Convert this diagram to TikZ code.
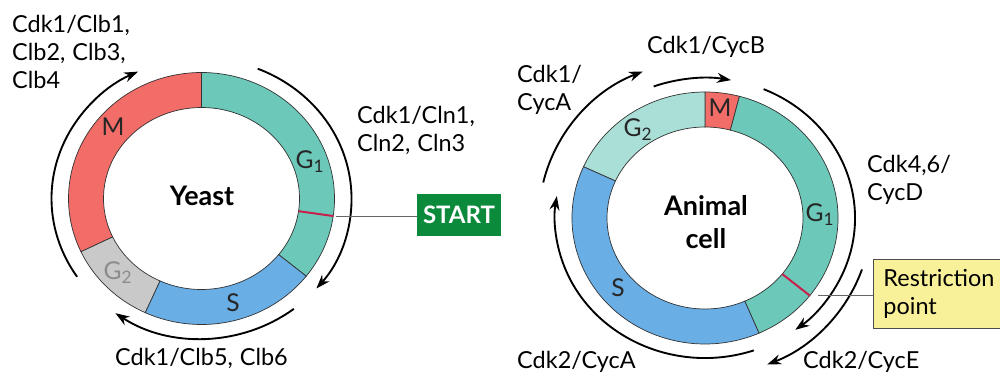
\documentclass[tikz,border=0pt]{standalone}
\usepackage{fontspec}
\setmainfont{Lato}
\usetikzlibrary{arrows.meta}
\usetikzlibrary{positioning}
\usetikzlibrary{calc}
\definecolor{mred}{HTML}{F26C68}
\definecolor{gteal}{HTML}{6CC8B9}
\definecolor{gpale}{HTML}{A9DFD6}
\definecolor{ggray}{HTML}{C9C9C9}
\definecolor{sblue}{HTML}{6AAEE6}
\definecolor{rpred}{HTML}{C8204A}
\definecolor{startgreen}{HTML}{0B8A3C}
\definecolor{rpyellow}{HTML}{F9F09A}
\newcommand{\labfont}{\fontsize{20}{23.8}\selectfont\spaceskip=0.3em plus 0.1em\relax}
\tikzstyle{phase}=[draw=black!80,line width=0.6pt]
\tikzstyle{rpline}=[draw=rpred,line width=1.7pt]
\tikzstyle{cyc}=[line width=1.6pt,-{Stealth[length=12pt,width=8.5pt]}]
\tikzstyle{lab}=[font=\labfont,align=left,inner sep=0pt,anchor=north west]
\tikzstyle{phaselab}=[font=\fontsize{21}{25}\selectfont,text=black!85,inner sep=0pt]
\tikzstyle{cellname}=[font=\fontsize{23}{28}\selectfont\bfseries,align=center,inner sep=0pt]
\tikzstyle{pointer}=[draw=black!60,line width=1pt]
\newcommand{\phaseseg}[3]{\filldraw[phase,fill=#3] (#1:133 and 126) arc[start angle=#1,end angle=#2,x radius=133,y radius=126] -- (#2:98 and 91) arc[start angle=#2,end angle=#1,x radius=98,y radius=91] -- cycle;}

\begin{document}
\begin{tikzpicture}[x=0.3mm,y=0.3mm]
\useasboundingbox (0,0) rectangle (1000,376);
\begin{scope}[shift={(201.5,177.5)}]
\foreach \a/\b/\c in {90/205/mred,205/245/ggray,245/322/sblue,322/450/gteal}{\phaseseg{\a}{\b}{\c}}
\draw[rpline] (-8:98 and 91) -- (-8:133 and 126);
\draw[cyc] (214:150 and 140) arc[start angle=214,end angle=115,x radius=150,y radius=140];
\draw[cyc] (68:150 and 140) arc[start angle=68,end angle=-40,x radius=150,y radius=140];
\draw[cyc] (-52:150 and 140) arc[start angle=-52,end angle=-125,x radius=150,y radius=140];
\coordinate (startpt) at (-8:136 and 129);
\node[phaselab] (ym) at (-88.5,71.5) {M};
\node[phaselab] (yg1) at (108.5,36.5) {G\textsubscript{1}};
\node[phaselab,text=black!45] (yg2) at (-83.5,-74.5) {G\textsubscript{2}};
\node[phaselab] (ys) at (31.5,-104.5) {S};
\node[cellname] (yeast) at (0.5,2.5) {Yeast};
\end{scope}

\begin{scope}[shift={(705,158)}]
\foreach \a/\b/\c in {75/90/mred,90/156/gpale,156/294/sblue,294/435/gteal}{\phaseseg{\a}{\b}{\c}}
\draw[rpline] (-38:98 and 91) -- (-38:133 and 126);
\draw[cyc] (167:166 and 158) arc[start angle=167,end angle=112,x radius=166,y radius=158];
\draw[cyc] (110:150 and 140) arc[start angle=110,end angle=80,x radius=150,y radius=140];
\draw[cyc] (67:150 and 140) arc[start angle=67,end angle=-53,x radius=150,y radius=140];
\draw[cyc] (-19:166 and 158) arc[start angle=-19,end angle=-68,x radius=166,y radius=158];
\draw[cyc] (-71:150 and 140) arc[start angle=-71,end angle=-189,x radius=150,y radius=140];
\coordinate (rpt) at (-36:140 and 132);
\node[phaselab] (am) at (15,110) {M};
\node[phaselab] (ag2) at (-67,88) {G\textsubscript{2}};
\node[phaselab] (ag1) at (115,3) {G\textsubscript{1}};
\node[phaselab] (as) at (-87,-70) {S};
\node[cellname] (animal) at (1,-4) {Animal\\cell};
\end{scope}

\node[lab] (clbA) at (12,361) {Cdk1/Clb1,\\Clb2, Clb3,\\Clb4};
\node[lab] (clnA) at (357,270) {Cdk1/Cln1,\\Cln2, Cln3};
\node[lab] (clbB) at (115,28) {Cdk1/Clb5, Clb6};
\node[lab] (cycB) at (647,340) {Cdk1/CycB};
\node[lab] (cycA) at (517,311) {Cdk1/\\CycA};
\node[lab] (cycD) at (867,221) {Cdk4,6/\\CycD};
\node[lab] (cycAb) at (517,25) {Cdk2/CycA};
\node[lab] (cycE) at (803,25) {Cdk2/CycE};

\node[fill=startgreen,text=white,font=\fontsize{20.5}{24}\selectfont\bfseries,minimum width=25.2mm,minimum height=12.6mm,inner sep=0pt] (start) at (459,161) {START};
\node[draw=black!70,fill=rpyellow,line width=0.8pt,anchor=west,minimum height=20.7mm,text width=33mm,inner xsep=3mm,align=left,font=\labfont] (rbox) at (873,82.5) {Restriction\\point};

\draw[pointer] (startpt) -- (startpt -| start.west);
\draw[pointer] (rpt) -- (rpt -| rbox.west);
\end{tikzpicture}
\end{document}
